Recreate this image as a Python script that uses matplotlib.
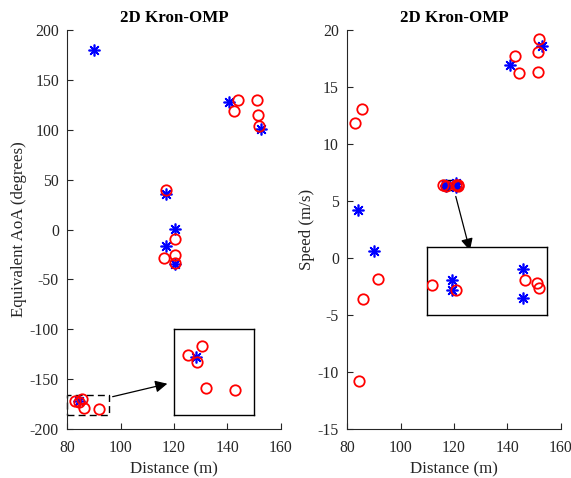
import matplotlib
matplotlib.use("Agg")
import matplotlib.pyplot as plt
from matplotlib.patches import Rectangle, FancyArrowPatch

plt.rcParams['font.family'] = ['Liberation Serif', 'DejaVu Serif']
plt.rcParams['axes.unicode_minus'] = False

# ---------------- data ----------------
title = "2D Kron-OMP"
xlabel = "Distance (m)"
ylabel_left = "Equivalent AoA (degrees)"
ylabel_right = "Speed (m/s)"

# Left panel: equivalent AoA
aoa_est_x = [144.1, 151.2, 142.6, 151.5, 151.9, 117.0, 120.3, 116.1, 120.5, 120.5,
             82.8, 84.4, 85.5, 86.2, 91.8]
aoa_est_y = [130, 130, 119, 115, 104, 40, -10, -29, -26, -34,
             -171.5, -173.1, -169.5, -179.2, -179.8]
aoa_true_x = [90.0, 140.7, 152.6, 117.0, 120.4, 117.0, 120.4, 84.2]
aoa_true_y = [179.6, 128, 101, 36, 0.7, -16.7, -34.3, -172.0]

# Right panel: speed
spd_est_x = [152.1, 151.4, 143.1, 144.3, 151.4, 85.4, 82.9, 91.6, 86.0, 84.4,
             115.93, 117.19, 120.83, 121.48, 121.55]
spd_est_y = [19.2, 18.1, 17.75, 16.26, 16.35, 13.07, 11.84, -1.87, -3.6, -10.76,
             6.369, 6.31, 6.435, 6.40, 6.34]
spd_true_x = [153.0, 141.2, 84.1, 90.1, 116.98, 116.98, 120.74, 120.74]
spd_true_y = [18.6, 16.9, 4.2, 0.6, 6.435, 6.31, 6.577, 6.211]

x_ticks = [80, 100, 120, 140, 160]
aoa_ticks = [200, 150, 100, 50, 0, -50, -100, -150, -200]
spd_ticks = [20, 15, 10, 5, 0, -5, -10, -15]

# zoom regions (source rect, inset placement)
aoa_src = (80, 95.5, -185.5, -165.5)
aoa_inset = (120, 150, -185.5, -100)
aoa_arrow = ((97.0, -167.6), (117.5, -154.6))
spd_src = (115.7, 122.0, 6.0, 6.85)
spd_inset = (110, 155, -5, 1)
spd_arrow = ((120.7, 5.4), (126.0, 0.65))

# ---------------- style ----------------
AX_COL = '#262626'
FS_TICK = 11.3
FS_LAB = 12.2
circ = dict(marker='o', ms=7.5, mfc='none', mec='#ff0000', mew=1.3, ls='none')
star = dict(marker=(8, 2, 0), ms=8.5, mec='#0000ff', mew=1.2, ls='none')

fig = plt.figure(figsize=(5.71, 4.78), dpi=100)


def style_axes(ax, yticks, ylim, ylabel):
    ax.set_xlim(80, 160)
    ax.set_ylim(*ylim)
    ax.set_xticks(x_ticks)
    ax.set_yticks(yticks)
    for s in ['top', 'right']:
        ax.spines[s].set_visible(False)
    for s in ['left', 'bottom']:
        ax.spines[s].set_color(AX_COL)
        ax.spines[s].set_linewidth(0.8)
    ax.tick_params(direction='in', length=4, width=0.8, colors=AX_COL,
                   labelsize=FS_TICK, labelcolor=AX_COL)
    ax.tick_params(axis='y', pad=6)
    ax.tick_params(axis='x', pad=8)
    ax.set_xlabel(xlabel, fontsize=FS_LAB, color=AX_COL, labelpad=4)
    ax.set_ylabel(ylabel, fontsize=FS_LAB, color=AX_COL, labelpad=2)
    ax.set_title(title, fontsize=FS_LAB, fontweight='bold', pad=6)


def add_zoom(ax, xs_e, ys_e, xs_t, ys_t, src, ins, arrow, dashed):
    x0, x1, y0, y1 = src
    ax.add_patch(Rectangle((x0, y0), x1 - x0, y1 - y0, fill=False,
                           ec='k', lw=1.0, ls=(0, (5, 3)) if dashed else '-',
                           zorder=1, clip_on=False))
    ix0, ix1, iy0, iy1 = ins
    axi = ax.inset_axes([ix0, iy0, ix1 - ix0, iy1 - iy0], transform=ax.transData)
    axi.plot(xs_e, ys_e, **circ, zorder=3)
    axi.plot(xs_t, ys_t, **star, zorder=2)
    axi.set_xlim(x0, x1)
    axi.set_ylim(y0, y1)
    axi.set_xticks([])
    axi.set_yticks([])
    for s in axi.spines.values():
        s.set_color('k')
        s.set_linewidth(1.0)
    ar = FancyArrowPatch(arrow[0], arrow[1], arrowstyle='-|>', mutation_scale=18,
                         color='k', lw=0.9, shrinkA=0, shrinkB=0, zorder=5)
    ax.add_patch(ar)


# Left
ax1 = fig.add_axes([67.3 / 571, 49 / 478, 213.4 / 571, 399 / 478])
style_axes(ax1, aoa_ticks, (-200, 200), ylabel_left)
ax1.plot(aoa_est_x, aoa_est_y, **circ, zorder=3)
ax1.plot(aoa_true_x, aoa_true_y, **star, zorder=2)
add_zoom(ax1, aoa_est_x, aoa_est_y, aoa_true_x, aoa_true_y,
         aoa_src, aoa_inset, aoa_arrow, dashed=True)

# Right
ax2 = fig.add_axes([347.3 / 571, 49 / 478, 213.2 / 571, 399 / 478])
style_axes(ax2, spd_ticks, (-15, 20), ylabel_right)
ax2.plot(spd_est_x, spd_est_y, **circ, zorder=3)
ax2.plot(spd_true_x, spd_true_y, **star, zorder=2)
add_zoom(ax2, spd_est_x, spd_est_y, spd_true_x, spd_true_y,
         spd_src, spd_inset, spd_arrow, dashed=False)

fig.savefig('out.png', dpi=100)
